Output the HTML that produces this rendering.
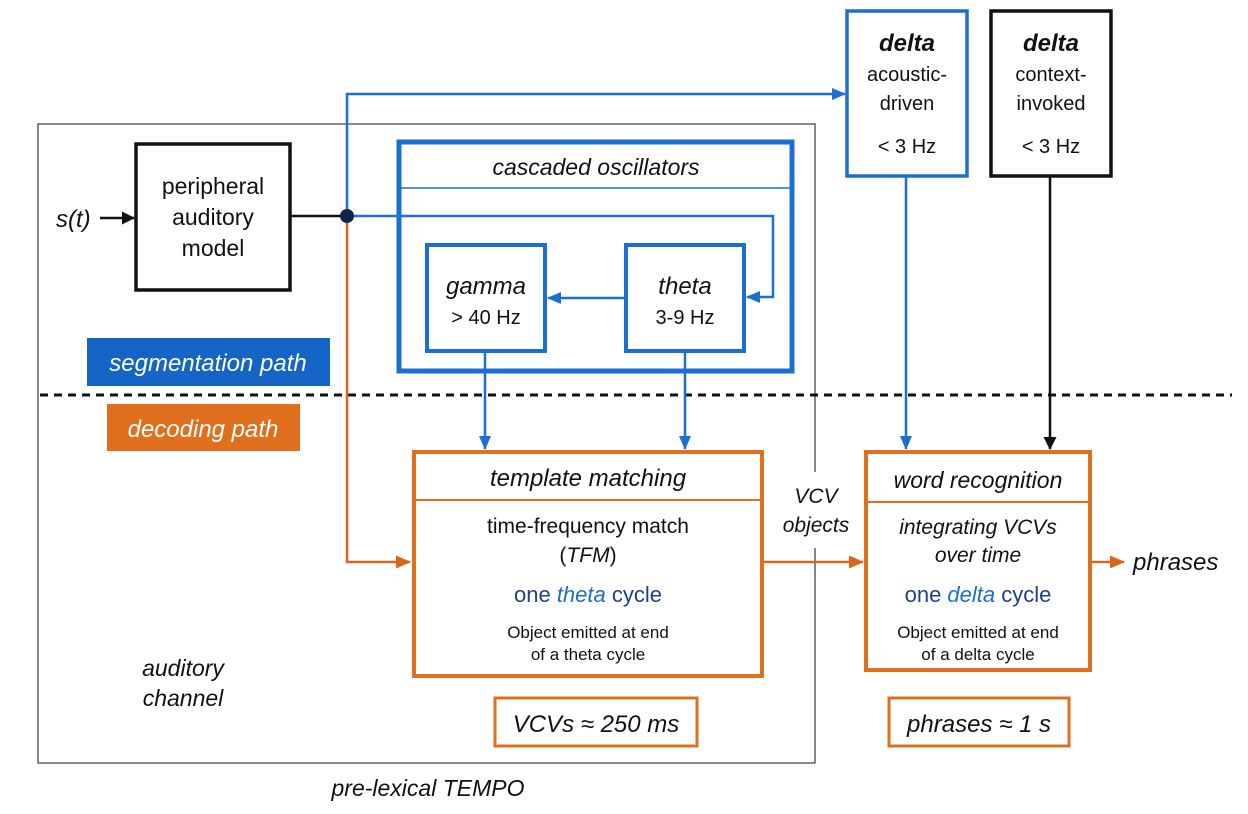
<!DOCTYPE html>
<html><head><meta charset="utf-8"><style>body{margin:0;background:#fff}svg{display:block}text{font-family:"Liberation Sans",sans-serif;fill:#111}</style></head><body>
<svg width="1248" height="814" viewBox="0 0 1248 814" xmlns="http://www.w3.org/2000/svg">
<defs>
<marker id="ab" markerWidth="14" markerHeight="12" refX="13" refY="6" orient="auto" markerUnits="userSpaceOnUse"><path d="M0,0 L14,6 L0,12z" fill="#1a6fd0"/></marker>
<marker id="ao" markerWidth="15" markerHeight="13" refX="14" refY="6.5" orient="auto" markerUnits="userSpaceOnUse"><path d="M0,0 L15,6.5 L0,13z" fill="#d9661a"/></marker>
<marker id="ak" markerWidth="13" markerHeight="13" refX="12" refY="6.5" orient="auto" markerUnits="userSpaceOnUse"><path d="M0,0 L13,6.5 L0,13z" fill="#111"/></marker>
</defs>
<path d="M815,472 L815,124 L38,124 L38,763 L815,763 L815,548" fill="none" stroke="#444" stroke-width="1.3"/>
<line x1="40" y1="395" x2="1232" y2="395" stroke="#111" stroke-width="3" stroke-dasharray="8,6"/>
<rect x="136" y="144" width="154" height="146" fill="#fff" stroke="#111" stroke-width="3.5"/>
<text x="213" y="194" font-size="23" text-anchor="middle">peripheral</text>
<text x="213" y="225" font-size="23" text-anchor="middle">auditory</text>
<text x="213" y="256" font-size="23" text-anchor="middle">model</text>
<text x="56" y="227" font-size="24" font-style="italic">s(t)</text>
<line x1="100" y1="218" x2="134" y2="218" stroke="#111" stroke-width="2.5" marker-end="url(#ak)"/>
<line x1="290" y1="216" x2="347" y2="216" stroke="#111" stroke-width="2.5"/>
<polyline points="347,216 773,216 773,297 747,297" fill="none" stroke="#1a6fd0" stroke-width="2.5" marker-end="url(#ab)"/>
<polyline points="347,216 347,94 845,94" fill="none" stroke="#1a6fd0" stroke-width="2.5" marker-end="url(#ab)"/>
<polyline points="347,216 347,562 410,562" fill="none" stroke="#d9661a" stroke-width="2.5" marker-end="url(#ao)"/>
<circle cx="347" cy="216" r="7" fill="#0d2550"/>
<rect x="399" y="142" width="393" height="229" fill="none" stroke="#1a6fd0" stroke-width="5"/>
<line x1="401" y1="188" x2="790" y2="188" stroke="#1a6fd0" stroke-width="1.5"/>
<text x="596" y="175" font-size="23" font-style="italic" text-anchor="middle">cascaded oscillators</text>
<rect x="427" y="245" width="118" height="106" fill="#fff" stroke="#1a6fd0" stroke-width="4"/>
<text x="486" y="294" font-size="24" font-style="italic" text-anchor="middle">gamma</text>
<text x="486" y="324" font-size="20" text-anchor="middle" fill="#333">&gt; 40 Hz</text>
<rect x="626" y="245" width="118" height="106" fill="#fff" stroke="#1a6fd0" stroke-width="4"/>
<text x="685" y="294" font-size="24" font-style="italic" text-anchor="middle">theta</text>
<text x="685" y="324" font-size="20" text-anchor="middle" fill="#333">3-9 Hz</text>
<line x1="624" y1="298" x2="548" y2="298" stroke="#1a6fd0" stroke-width="2.5" marker-end="url(#ab)"/>
<line x1="485" y1="353" x2="485" y2="449" stroke="#1a6fd0" stroke-width="2.5" marker-end="url(#ab)"/>
<line x1="685" y1="353" x2="685" y2="449" stroke="#1a6fd0" stroke-width="2.5" marker-end="url(#ab)"/>
<rect x="87" y="338" width="243" height="48" fill="#1565c6"/>
<text x="208" y="371" font-size="24" font-style="italic" text-anchor="middle" style="fill:#fff">segmentation path</text>
<rect x="107" y="404" width="193" height="47" fill="#e0701e"/>
<text x="203" y="437" font-size="24" font-style="italic" text-anchor="middle" style="fill:#fff">decoding path</text>
<rect x="847" y="11" width="120" height="165" fill="#fff" stroke="#1a6fd0" stroke-width="3.5"/>
<text x="907" y="51" font-size="24" font-style="italic" font-weight="bold" text-anchor="middle">delta</text>
<text x="907" y="81" font-size="20" text-anchor="middle" fill="#333">acoustic-</text>
<text x="907" y="110" font-size="20" text-anchor="middle" fill="#333">driven</text>
<text x="907" y="153" font-size="20" text-anchor="middle" fill="#333">&lt; 3 Hz</text>
<rect x="991" y="11" width="120" height="165" fill="#fff" stroke="#111" stroke-width="3.5"/>
<text x="1051" y="51" font-size="24" font-style="italic" font-weight="bold" text-anchor="middle">delta</text>
<text x="1051" y="81" font-size="20" text-anchor="middle" fill="#333">context-</text>
<text x="1051" y="110" font-size="20" text-anchor="middle" fill="#333">invoked</text>
<text x="1051" y="153" font-size="20" text-anchor="middle" fill="#333">&lt; 3 Hz</text>
<line x1="906" y1="177" x2="906" y2="449" stroke="#1a6fd0" stroke-width="2.5" marker-end="url(#ab)"/>
<line x1="1050" y1="177" x2="1050" y2="449" stroke="#111" stroke-width="2.5" marker-end="url(#ak)"/>
<rect x="414" y="452" width="348" height="224" fill="#fff" stroke="#e0701e" stroke-width="4"/>
<line x1="416" y1="500" x2="760" y2="500" stroke="#e0701e" stroke-width="2"/>
<text x="588" y="486" font-size="24" font-style="italic" text-anchor="middle">template matching</text>
<text x="588" y="533" font-size="21" text-anchor="middle">time-frequency match</text>
<text x="588" y="562" font-size="21" text-anchor="middle">(<tspan font-style="italic">TFM</tspan>)</text>
<text x="588" y="602" font-size="22" text-anchor="middle" style="fill:#1f3f8f">one <tspan font-style="italic" style="fill:#1a6fd0">theta</tspan> cycle</text>
<text x="588" y="638" font-size="17" text-anchor="middle" fill="#333">Object emitted at end</text>
<text x="588" y="660" font-size="17" text-anchor="middle" fill="#333">of a theta cycle</text>
<rect x="866" y="452" width="224" height="218" fill="#fff" stroke="#e0701e" stroke-width="4"/>
<line x1="868" y1="502" x2="1088" y2="502" stroke="#e0701e" stroke-width="2"/>
<text x="978" y="488" font-size="23" font-style="italic" text-anchor="middle">word recognition</text>
<text x="978" y="534" font-size="21" font-style="italic" text-anchor="middle">integrating VCVs</text>
<text x="978" y="562" font-size="21" font-style="italic" text-anchor="middle">over time</text>
<text x="978" y="602" font-size="22" text-anchor="middle" style="fill:#1f3f8f">one <tspan font-style="italic" style="fill:#1a6fd0">delta</tspan> cycle</text>
<text x="978" y="638" font-size="17" text-anchor="middle" fill="#333">Object emitted at end</text>
<text x="978" y="660" font-size="17" text-anchor="middle" fill="#333">of a delta cycle</text>
<line x1="764" y1="562" x2="863" y2="562" stroke="#d9661a" stroke-width="2.5" marker-end="url(#ao)"/>
<line x1="1092" y1="562" x2="1124" y2="562" stroke="#d9661a" stroke-width="2.5" marker-end="url(#ao)"/>
<text x="1133" y="570" font-size="24" font-style="italic">phrases</text>
<text x="816" y="503" font-size="21" font-style="italic" text-anchor="middle">VCV</text>
<text x="816" y="532" font-size="21" font-style="italic" text-anchor="middle">objects</text>
<rect x="495" y="698" width="202" height="48" fill="#fff" stroke="#e0701e" stroke-width="3"/>
<text x="596" y="732" font-size="24" font-style="italic" text-anchor="middle">VCVs ≈ 250 ms</text>
<rect x="889" y="698" width="180" height="48" fill="#fff" stroke="#e0701e" stroke-width="3"/>
<text x="979" y="732" font-size="24" font-style="italic" text-anchor="middle">phrases ≈ 1 s</text>
<text x="183" y="676" font-size="23" font-style="italic" text-anchor="middle">auditory</text>
<text x="183" y="706" font-size="23" font-style="italic" text-anchor="middle">channel</text>
<text x="428" y="796" font-size="23" font-style="italic" text-anchor="middle">pre-lexical TEMPO</text>
</svg>
</body></html>
